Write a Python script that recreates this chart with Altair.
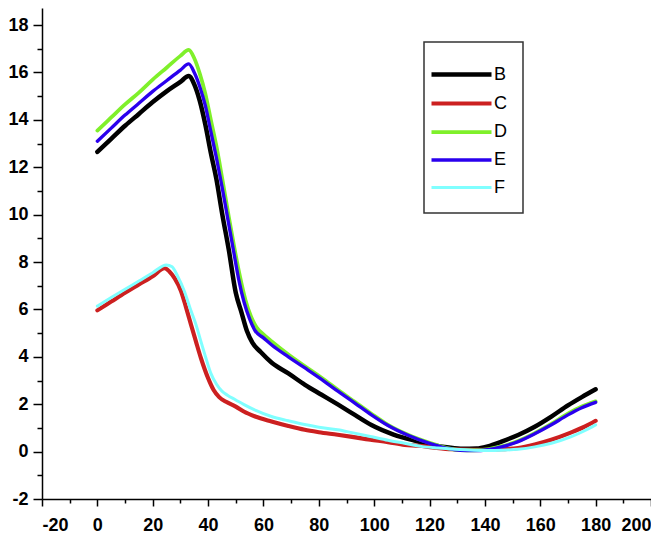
import altair as alt
import pandas as pd

series_names = ["B", "C", "D", "E", "F"]
series_colors = ["#000000", "#cc2020", "#7ff02a", "#2a00ee", "#80ffff"]
series_widths = [4.5, 3, 4.5, 4.5, 5]

b_x = [0, 5, 10, 15, 20, 25, 30, 33, 35, 37, 39, 41, 43, 45, 47.5, 50, 52, 54, 56, 59, 63, 69, 75, 81, 87, 93, 99, 107, 115, 121, 127, 132, 137, 141, 146, 152, 158, 164, 170, 175, 180]
b_y = [12.65, 13.2, 13.75, 14.25, 14.75, 15.2, 15.6, 15.85, 15.5, 14.8, 13.8, 12.6, 11.5, 10.1, 8.5, 6.7, 5.9, 5.1, 4.6, 4.2, 3.75, 3.3, 2.82, 2.4, 1.98, 1.55, 1.12, 0.72, 0.45, 0.28, 0.17, 0.12, 0.13, 0.22, 0.42, 0.7, 1.05, 1.48, 1.95, 2.3, 2.63]

c_x = [0, 5, 10, 15, 20, 24.3, 26, 28, 30.2, 32, 33.8, 35.6, 37.4, 40, 42, 44, 46.5, 50, 52.9, 57, 62.9, 69, 74.9, 80, 86.8, 92, 98.6, 105, 111, 116, 121, 128, 136, 141, 146, 152, 158, 164, 171, 176, 180]
c_y = [5.96, 6.33, 6.7, 7.05, 7.4, 7.74, 7.6, 7.3, 6.78, 6.1, 5.37, 4.65, 3.95, 3.1, 2.6, 2.3, 2.1, 1.9, 1.69, 1.48, 1.27, 1.08, 0.92, 0.82, 0.71, 0.62, 0.5, 0.4, 0.28, 0.25, 0.18, 0.1, 0.08, 0.08, 0.1, 0.15, 0.3, 0.5, 0.8, 1.05, 1.3]

d_x = [0, 5, 10, 15, 20, 25, 30, 33, 35, 37, 39, 41, 43, 45, 47.5, 49.5, 51.5, 53.5, 55.5, 57.5, 60, 63, 69, 75, 81, 87, 93, 99, 105, 112, 120, 126, 131, 136, 141, 146, 152, 158, 164, 170, 175, 180]
d_y = [13.55, 14.1, 14.65, 15.15, 15.7, 16.2, 16.7, 16.95, 16.6, 15.95, 15.1, 14.0, 12.9, 11.6, 9.9, 8.6, 7.4, 6.4, 5.7, 5.25, 4.95, 4.65, 4.1, 3.6, 3.12, 2.6, 2.1, 1.6, 1.13, 0.72, 0.37, 0.16, 0.06, 0.05, 0.1, 0.22, 0.45, 0.78, 1.17, 1.6, 1.9, 2.12]

e_x = [0, 5, 10, 15, 20, 25, 30, 33, 35, 37, 39, 41, 43, 45, 47.3, 49.3, 51, 53, 55, 57, 60, 63, 69, 75, 81, 87, 93, 99, 105, 112, 120, 126, 131, 136, 141, 146, 152, 158, 164, 170, 175, 180]
e_y = [13.1, 13.65, 14.2, 14.7, 15.2, 15.65, 16.1, 16.36, 16.0, 15.4, 14.6, 13.5, 12.4, 11.2, 9.7, 8.4, 7.3, 6.3, 5.6, 5.1, 4.8, 4.5, 4.0, 3.53, 3.05, 2.54, 2.05, 1.55, 1.1, 0.7, 0.35, 0.15, 0.05, 0.04, 0.08, 0.2, 0.42, 0.75, 1.13, 1.55, 1.85, 2.08]

f_x = [0, 5, 10, 15, 20, 24.9, 27, 29, 31.4, 33.5, 35.6, 37.4, 39.2, 41, 43, 45, 47, 50, 53, 57, 62.9, 69, 74.9, 80, 86.8, 92, 98.6, 105, 111, 117.5, 123, 129, 136, 141, 146, 152, 158, 164, 171, 176, 180]
f_y = [6.14, 6.5, 6.85, 7.2, 7.55, 7.88, 7.8, 7.4, 6.78, 6.05, 5.37, 4.65, 3.95, 3.3, 2.85, 2.55, 2.38, 2.18, 1.98, 1.75, 1.48, 1.3, 1.14, 1.03, 0.92, 0.8, 0.64, 0.48, 0.35, 0.21, 0.15, 0.1, 0.06, 0.05, 0.06, 0.1, 0.2, 0.35, 0.62, 0.88, 1.13]

x_ticks = list(range(-20, 201, 10))
y_ticks = list(range(-2, 19, 1))

rows = []
for name, xs, ys in zip(series_names, [b_x, c_x, d_x, e_x, f_x], [b_y, c_y, d_y, e_y, f_y]):
    for i, (xv, yv) in enumerate(zip(xs, ys)):
        rows.append({"series": name, "x": xv, "y": yv, "i": i})
df = pd.DataFrame(rows)

font = "Liberation Sans"

chart = alt.Chart(df).mark_line(interpolate="monotone", strokeCap="round", strokeJoin="round").encode(
    x=alt.X("x:Q", scale=alt.Scale(domain=[-20, 200], nice=False, zero=False),
            axis=alt.Axis(values=x_ticks, title=None, grid=False,
                          labelExpr="datum.value % 20 === 0 ? '' + datum.value : ''",
                          tickSize={"condition": {"test": "datum.value % 20 === 0", "value": 7}, "value": 4},
                          labelPadding=10)),
    y=alt.Y("y:Q", scale=alt.Scale(domain=[-2, 18.72], nice=False, zero=False),
            axis=alt.Axis(values=y_ticks, title=None, grid=False,
                          labelExpr="datum.value % 2 === 0 ? '' + datum.value : ''",
                          tickSize={"condition": {"test": "datum.value % 2 === 0", "value": 9}, "value": 5},
                          labelPadding=5)),
    color=alt.Color("series:N", scale=alt.Scale(domain=series_names, range=series_colors),
                    legend=alt.Legend(title=None, orient="none", legendX=382, legendY=34,
                                      symbolType="M-2.143,0H2.143", symbolSize=784,
                                      symbolStrokeWidth=4, symbolOffset=5, labelOffset=16,
                                      rowPadding=3, padding=16,
                                      labelFont=font, labelFontSize=18, labelColor="black",
                                      strokeColor="#333333", fillColor="white")),
    strokeWidth=alt.StrokeWidth("series:N", scale=alt.Scale(domain=series_names, range=series_widths), legend=None),
    order="i:Q",
).properties(
    width=609, height=491,
    autosize=alt.AutoSizeParams(type="none"),
    padding={"left": 34, "top": 0, "right": 0, "bottom": 34},
).configure_view(stroke=None).configure_axis(
    labelFont=font, labelFontSize=18, labelFontWeight="bold", labelColor="black",
    domainColor="black", domainWidth=1.5, tickColor="black", tickWidth=1.5,
).configure_legend(strokeWidth=1.5)

chart.save("out.html", embed_options={"renderer": "svg", "actions": False})
